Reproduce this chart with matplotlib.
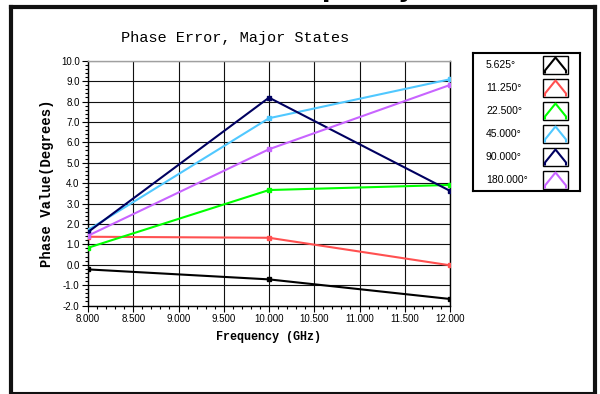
import numpy as np
import matplotlib
matplotlib.use("Agg")
import matplotlib.pyplot as plt
from matplotlib.ticker import MultipleLocator, FormatStrFormatter
from matplotlib.lines import Line2D
from matplotlib.patches import Rectangle

# frequency points (GHz)
freq = [8.0, 10.0, 12.0]

# phase error per major state (degrees)
err_5p625 = [-0.23, -0.72, -1.68]
err_11p25 = [1.37, 1.32, -0.03]
err_22p5 = [0.83, 3.66, 3.91]
err_45 = [1.70, 7.18, 9.09]
err_90 = [1.60, 8.19, 3.62]
err_180 = [1.42, 5.66, 8.81]

states = ["5.625\u00b0", "11.250\u00b0", "22.500\u00b0", "45.000\u00b0", "90.000\u00b0", "180.000\u00b0"]
series = [err_5p625, err_11p25, err_22p5, err_45, err_90, err_180]
colors = ["#000000", "#ff5050", "#00ff00", "#50c8ff", "#000060", "#c864ff"]

W, H = 600, 394
fig = plt.figure(figsize=(6, 3.94), dpi=100)

ax = fig.add_axes([88 / W, 1 - 305.5 / H, 362 / W, 244.8 / H])
for vals, c in zip(series, colors):
    ax.plot(freq, vals, color=c, lw=1.5, marker="s", ms=2.6, zorder=3)

ax.set_xlim(8.0, 12.0)
ax.set_ylim(-2.0, 10.0)
ax.xaxis.set_major_locator(MultipleLocator(0.5))
ax.xaxis.set_minor_locator(MultipleLocator(0.1))
ax.yaxis.set_major_locator(MultipleLocator(1.0))
ax.yaxis.set_minor_locator(MultipleLocator(0.2))
ax.xaxis.set_major_formatter(FormatStrFormatter("%.3f"))
ax.yaxis.set_major_formatter(FormatStrFormatter("%.1f"))
ax.grid(True, which="major", color="#111111", lw=0.8)
ax.tick_params(which="major", length=4, width=0.8, labelsize=7, pad=2)
ax.tick_params(which="minor", length=2, width=0.8)
for lab in ax.get_xticklabels() + ax.get_yticklabels():
    lab.set_family("Liberation Sans")
ax.spines["top"].set_color("#a0a0a0")
for s in ax.spines.values():
    s.set_linewidth(1.0)

ax.set_xlabel("Frequency (GHz)", family="Liberation Mono", weight="bold", fontsize=8.5, labelpad=5)
ax.set_ylabel("Phase Value(Degrees)", family="Liberation Mono", weight="bold", fontsize=10, labelpad=5)
fig.text(235 / W, 1 - 38 / H, "Phase Error, Major States", family="Liberation Mono",
         fontsize=11, ha="center", va="center")

# legend panel with caret glyphs
lax = fig.add_axes([473 / W, 1 - 191 / H, 107 / W, 138 / H])
lax.set_xlim(0, 107)
lax.set_ylim(138, 0)
lax.set_xticks([])
lax.set_yticks([])
for s in lax.spines.values():
    s.set_linewidth(1.5)
for i, (name, c) in enumerate(zip(states, colors)):
    yc = 12 + 23 * i
    lax.text(13, yc, name, family="Liberation Sans", fontsize=7.5, va="center", ha="left")
    lax.add_patch(Rectangle((70, yc - 9), 25, 18, fill=False, ec="black", lw=1.0))
    lax.plot([72, 72, 82.5, 93, 93], [yc + 7.5, yc + 5.5, yc - 7.5, yc + 5.5, yc + 7.5], color=c, lw=1.5)

# outer frame
frame = dict(color="#111111", transform=fig.transFigure, solid_capstyle="projecting")
fig.add_artist(Line2D([10.5 / W, 10.5 / W], [0, 1 - 7 / H], lw=3, **frame))
fig.add_artist(Line2D([10.5 / W, 594.5 / W], [1 - 7 / H, 1 - 7 / H], lw=3, **frame))
fig.add_artist(Line2D([594.5 / W, 594.5 / W], [0, 1 - 7 / H], lw=3, **frame))
fig.add_artist(Line2D([10.5 / W, 594.5 / W], [1 / H, 1 / H], lw=1.5, **frame))

# heading above the frame, mostly outside the image
fig.text(235 / W, 1 + 3 / H, "Phase Error vs. Frequency)", fontsize=18, weight="bold",
         ha="center", va="baseline", color="black")

fig.savefig("out.png", dpi=100)
